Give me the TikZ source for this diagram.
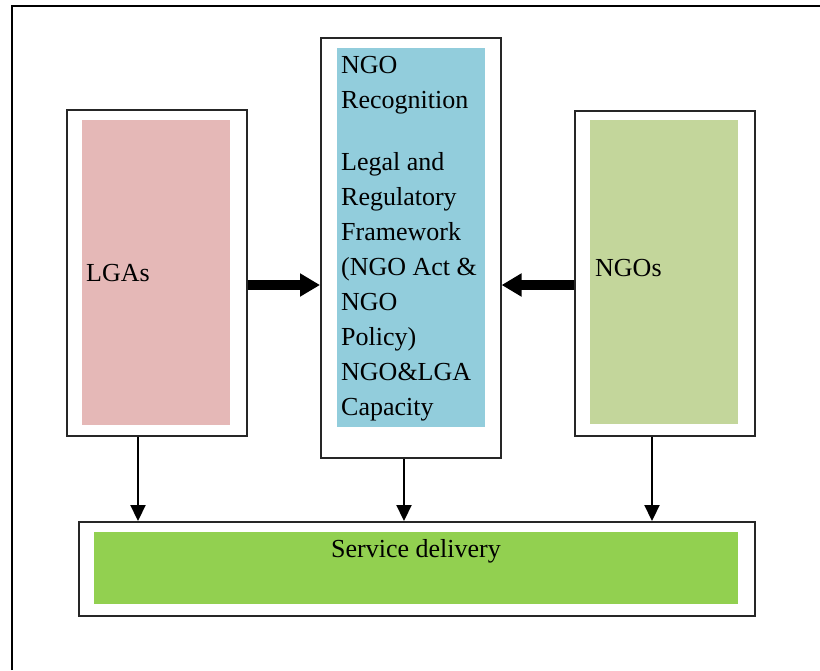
\documentclass[tikz,border=0pt]{standalone}
\usepackage{fontspec}
\setmainfont{Liberation Serif}
\usetikzlibrary{arrows.meta}

\definecolor{lgafill}{HTML}{E5B8B7}
\definecolor{ngofill}{HTML}{C3D69B}
\definecolor{regfill}{HTML}{92CDDC}
\definecolor{servfill}{HTML}{92D050}

\tikzset{
  frame/.style={draw=black!85,line width=1.6pt,inner sep=0pt,anchor=north west},
  panel/.style={inner sep=0pt,anchor=north west},
  label/.style={inner sep=0pt,font=\fontsize{26}{35}\selectfont},
  bigarrow/.style={line width=10pt,-{Triangle[length=20pt,width=22pt]}},
  thinarrow/.style={line width=2.2pt,-{Triangle[length=16pt,width=15pt]}},
}

\begin{document}
\begin{tikzpicture}[x=1pt,y=-1pt]
\useasboundingbox (0,0) rectangle (820,670);

% Outer frame
\draw[line width=2.2pt] (12,670) -- (12,6) -- (820,6);

% Node: LGAs
\node[frame,minimum width=180pt,minimum height=326pt] (lgas) at (66,109) {};
\node[panel,fill=lgafill,minimum width=148pt,minimum height=305pt] (lgasin) at (82,120) {};
\node[label,anchor=base west] (lgastext) at (86,281) {LGAs};

% Node: centre
\node[frame,minimum width=180pt,minimum height=420pt] (centre) at (320,37) {};
\node[panel,fill=regfill,minimum width=148pt,minimum height=379pt] (centrein) at (337,48) {};
\node[label,anchor=north west,align=left] (centretext) at (341,56)
  {NGO\\Recognition\\[27pt]Legal and\\Regulatory\\Framework\\(NGO Act \&\\NGO\\Policy)\\NGO\&LGA\\Capacity};

% Node: NGOs
\node[frame,minimum width=180pt,minimum height=325pt] (ngos) at (574,110) {};
\node[panel,fill=ngofill,minimum width=148pt,minimum height=304pt] (ngosin) at (590,120) {};
\node[label,anchor=base west] (ngostext) at (595,276) {NGOs};

% Node: service
\node[frame,minimum width=676pt,minimum height=94pt] (service) at (78,521) {};
\node[panel,fill=servfill,minimum width=644pt,minimum height=72pt] (servicein) at (94,532) {};
\node[label,anchor=base] (servicetext) at (416,557) {Service delivery};

% Edge: LGAs -> centre
\draw[bigarrow] (lgas.east |- 0,285) -- (centre.west |- 0,285);

% Edge: NGOs -> centre
\draw[bigarrow] (ngos.west |- 0,285) -- (centre.east |- 0,285);

% Edges: -> service
\draw[thinarrow] (lgas.south -| 138,0) -- (service.north -| 138,0);
\draw[thinarrow] (centre.south -| 404,0) -- (service.north -| 404,0);
\draw[thinarrow] (ngos.south -| 652,0) -- (service.north -| 652,0);
%
\end{tikzpicture}
\end{document}
